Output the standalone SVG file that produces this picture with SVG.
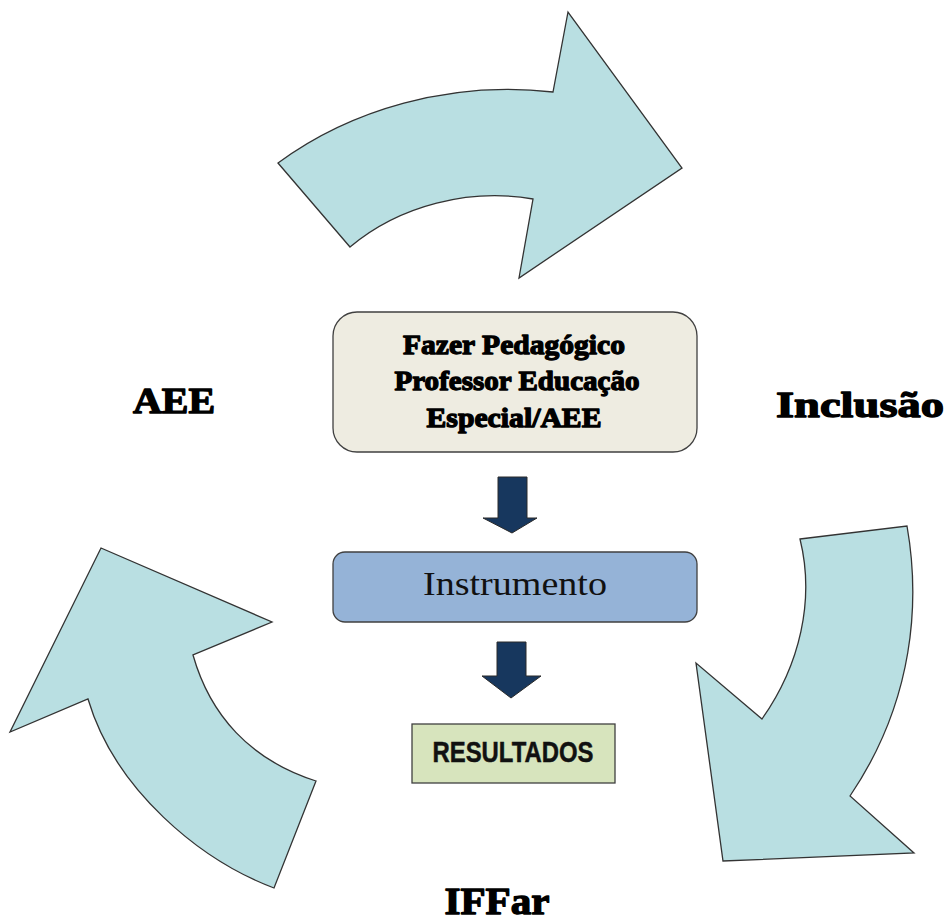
<svg xmlns="http://www.w3.org/2000/svg" width="947" height="921" viewBox="0 0 947 921">
<style>
.big{fill:#B9DFE2;stroke:#333;stroke-width:1.3;stroke-linejoin:miter}
.down{fill:#17375E;stroke:#2a2a2a;stroke-width:1}
.heavy{font-family:"Liberation Serif","DejaVu Serif",serif;font-weight:bold;fill:#000;stroke:#000;stroke-width:1.3;stroke-linejoin:round}
.inbox{font-family:"Liberation Serif","DejaVu Serif",serif;font-weight:bold;fill:#000;stroke:#000;stroke-width:1.3;stroke-linejoin:round;font-size:28px}
.box{stroke:#404040;stroke-width:1.3}
</style>
<rect width="947" height="921" fill="#fff"/>
<g id="cycle-arrows">
<path id="arrow-top" class="big" d="M278,163 C350,110 450,80 553,92 L568,12 L682,168 L519,278 L533,199 C470,188 400,205 350,247 Z"/>
<path id="arrow-right" class="big" d="M800,539 L907,526 C920,600 915,700 850,796 L914,853 L723,861 L696,663 L762,719 C800,665 815,600 800,539 Z"/>
<path id="arrow-left" class="big" d="M316,781 L274,888 C200,860 115,790 88,699 L10,732 L101,548 L272,622 L193,655 C210,715 250,760 316,781 Z"/>
</g>
<g id="connectors">
<path class="down" d="M498,477 L527,477 L527,518 L537,518 L512,533 L483,518 L498,518 Z"/>
<path class="down" d="M497,642 L526,642 L526,676 L541,676 L511,698 L482,676 L497,676 Z"/>
</g>
<g id="node-fazer">
<rect class="box" x="333" y="312" width="364" height="140" rx="24" fill="#EEECE1"/>
<text class="inbox" text-anchor="middle" x="514" y="354" textLength="222" lengthAdjust="spacingAndGlyphs">Fazer Pedagógico</text>
<text class="inbox" text-anchor="middle" x="517" y="390" textLength="245" lengthAdjust="spacingAndGlyphs">Professor Educação</text>
<text class="inbox" text-anchor="middle" x="514" y="427" textLength="175" lengthAdjust="spacingAndGlyphs">Especial/AEE</text>
</g>
<g id="node-instrumento">
<rect class="box" x="333" y="552" width="364" height="70" rx="12" fill="#95B3D7"/>
<text x="515" y="595" font-family="Liberation Serif, DejaVu Serif, serif" font-size="33" text-anchor="middle" textLength="184" lengthAdjust="spacingAndGlyphs" fill="#111">Instrumento</text>
</g>
<g id="node-resultados">
<rect class="box" x="412" y="724" width="203" height="59" fill="#D7E4BD"/>
<text x="513" y="762" font-family="Liberation Sans, Arial, sans-serif" font-weight="bold" font-size="30" text-anchor="middle" textLength="161" lengthAdjust="spacingAndGlyphs" fill="#111" stroke="#111" stroke-width="0.5">RESULTADOS</text>
</g>
<g id="label-aee">
<text class="heavy" x="174" y="413" font-size="35" text-anchor="middle" textLength="82" lengthAdjust="spacingAndGlyphs">AEE</text>
</g>
<g id="label-inclusao">
<text class="heavy" x="860" y="417" font-size="36" text-anchor="middle" textLength="168" lengthAdjust="spacingAndGlyphs">Inclusão</text>
</g>
<g id="label-iffar">
<text class="heavy" x="497" y="914" font-size="37" text-anchor="middle" textLength="105" lengthAdjust="spacingAndGlyphs">IFFar</text>
</g>
</svg>
